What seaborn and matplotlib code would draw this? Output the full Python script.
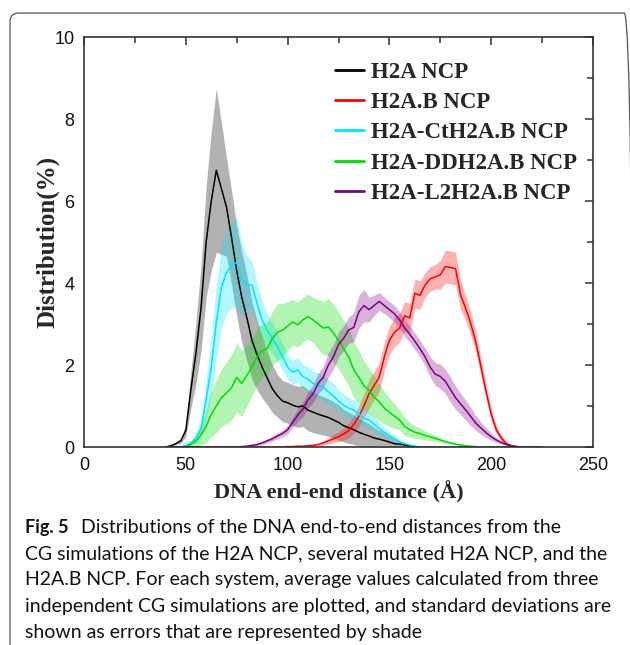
import numpy as np
import pandas as pd
import matplotlib
matplotlib.use("Agg")
import matplotlib.pyplot as plt
import seaborn as sns
from matplotlib.patches import FancyBboxPatch
from matplotlib.lines import Line2D
from matplotlib.ticker import MultipleLocator

# ---------------- data ----------------
distance = [40, 42.5, 45, 47.5, 50, 52.5, 55, 57.5, 60, 62.5,
            65, 67.5, 70, 72.5, 75, 77.5, 80, 82.5, 85, 87.5,
            90, 92.5, 95, 97.5, 100, 102.5, 105, 107.5, 110, 112.5,
            115, 117.5, 120, 122.5, 125, 127.5, 130, 132.5, 135, 137.5,
            140, 142.5, 145, 147.5, 150, 152.5, 155, 157.5, 160, 162.5,
            165, 167.5, 170, 172.5, 175, 177.5, 180, 182.5, 185, 187.5,
            190, 192.5, 195, 197.5, 200, 202.5, 205, 207.5, 210, 212.5,
            215, 217.5, 220, 222.5, 225]

h2a_mean = [0.00, 0.03, 0.08, 0.15, 0.40, 1.40, 2.30, 3.40, 5.00, 6.00,
            6.75, 6.30, 5.85, 5.10, 4.30, 3.65, 3.15, 2.60, 2.25, 1.95,
            1.68, 1.42, 1.25, 1.12, 1.08, 1.02, 0.98, 1.00, 0.90, 0.85,
            0.80, 0.76, 0.72, 0.66, 0.60, 0.52, 0.47, 0.42, 0.36, 0.31,
            0.27, 0.22, 0.19, 0.16, 0.12, 0.08, 0.07, 0.05, 0.02, 0.01,
            0, 0, 0, 0, 0, 0, 0, 0, 0, 0,
            0, 0, 0, 0, 0, 0, 0, 0, 0, 0,
            0, 0, 0, 0, 0]
h2a_std = [0.00, 0.01, 0.03, 0.06, 0.15, 0.45, 0.75, 1.05, 1.35, 1.70,
           2.00, 1.60, 1.20, 1.15, 1.10, 1.10, 1.05, 0.95, 0.85, 0.75,
           0.65, 0.58, 0.52, 0.50, 0.50, 0.50, 0.50, 0.50, 0.50, 0.50,
           0.48, 0.47, 0.46, 0.45, 0.43, 0.40, 0.38, 0.36, 0.34, 0.32,
           0.30, 0.26, 0.22, 0.18, 0.14, 0.10, 0.07, 0.05, 0.03, 0.01,
           0, 0, 0, 0, 0, 0, 0, 0, 0, 0,
           0, 0, 0, 0, 0, 0, 0, 0, 0, 0,
           0, 0, 0, 0, 0]

h2ab_mean = [0, 0, 0, 0, 0, 0, 0, 0, 0, 0,
             0, 0, 0, 0, 0, 0, 0, 0, 0, 0,
             0, 0, 0, 0, 0.01, 0.01, 0.02, 0.02, 0.03, 0.04,
             0.06, 0.10, 0.15, 0.20, 0.25, 0.32, 0.40, 0.55, 0.75, 1.00,
             1.30, 1.50, 1.70, 2.20, 2.60, 2.80, 2.90, 3.20, 3.15, 3.75,
             3.70, 3.95, 4.10, 4.15, 4.20, 4.40, 4.38, 4.35, 3.70, 3.38,
             3.00, 2.55, 1.95, 1.35, 0.80, 0.42, 0.22, 0.08, 0.03, 0.01,
             0, 0, 0, 0, 0]
h2ab_std = [0, 0, 0, 0, 0, 0, 0, 0, 0, 0,
            0, 0, 0, 0, 0, 0, 0, 0, 0, 0,
            0, 0, 0, 0, 0.01, 0.01, 0.01, 0.01, 0.02, 0.02,
            0.03, 0.05, 0.07, 0.10, 0.12, 0.15, 0.18, 0.22, 0.25, 0.30,
            0.35, 0.35, 0.35, 0.35, 0.35, 0.35, 0.35, 0.35, 0.35, 0.35,
            0.35, 0.30, 0.30, 0.30, 0.35, 0.40, 0.40, 0.40, 0.35, 0.30,
            0.28, 0.25, 0.22, 0.18, 0.15, 0.10, 0.07, 0.04, 0.02, 0.01,
            0, 0, 0, 0, 0]

ct_mean = [0, 0, 0, 0.01, 0.03, 0.10, 0.22, 0.45, 1.15, 1.95,
           3.05, 3.90, 4.25, 4.45, 4.50, 4.10, 3.95, 3.95, 3.50, 3.10,
           2.85, 2.65, 2.45, 2.20, 1.95, 1.82, 1.88, 1.72, 1.65, 1.55,
           1.50, 1.45, 1.35, 1.25, 1.12, 1.02, 0.95, 0.90, 0.80, 0.70,
           0.66, 0.55, 0.45, 0.36, 0.28, 0.20, 0.13, 0.08, 0.05, 0.02,
           0, 0, 0, 0, 0, 0, 0, 0, 0, 0,
           0, 0, 0, 0, 0, 0, 0, 0, 0, 0,
           0, 0, 0, 0, 0]
ct_std = [0, 0, 0, 0.01, 0.03, 0.06, 0.12, 0.25, 0.50, 0.70,
          0.90, 1.00, 1.00, 1.05, 1.10, 0.90, 0.70, 0.60, 0.50, 0.45,
          0.40, 0.38, 0.35, 0.33, 0.30, 0.30, 0.30, 0.30, 0.30, 0.30,
          0.30, 0.30, 0.30, 0.30, 0.28, 0.27, 0.26, 0.25, 0.24, 0.22,
          0.20, 0.18, 0.15, 0.12, 0.10, 0.08, 0.06, 0.04, 0.02, 0.01,
          0, 0, 0, 0, 0, 0, 0, 0, 0, 0,
          0, 0, 0, 0, 0, 0, 0, 0, 0, 0,
          0, 0, 0, 0, 0]

dd_mean = [0, 0, 0, 0, 0.02, 0.06, 0.15, 0.30, 0.50, 0.80,
           1.00, 1.20, 1.32, 1.45, 1.70, 1.55, 1.75, 1.95, 2.20, 2.35,
           2.40, 2.65, 2.80, 2.85, 2.95, 3.05, 2.98, 3.10, 3.18, 3.10,
           3.00, 2.90, 2.93, 2.78, 2.60, 2.40, 2.20, 1.88, 1.70, 1.50,
           1.38, 1.22, 1.10, 0.95, 0.85, 0.75, 0.66, 0.50, 0.42, 0.36,
           0.33, 0.28, 0.25, 0.21, 0.17, 0.13, 0.10, 0.07, 0.05, 0.03,
           0.02, 0.01, 0, 0, 0, 0, 0, 0, 0, 0,
           0, 0, 0, 0, 0]
dd_std = [0, 0, 0, 0, 0.02, 0.05, 0.12, 0.25, 0.40, 0.55,
          0.65, 0.70, 0.75, 0.80, 0.85, 0.80, 0.75, 0.70, 0.68, 0.65,
          0.65, 0.65, 0.70, 0.65, 0.60, 0.55, 0.55, 0.55, 0.55, 0.55,
          0.60, 0.65, 0.70, 0.70, 0.70, 0.70, 0.70, 0.68, 0.65, 0.60,
          0.55, 0.50, 0.45, 0.40, 0.35, 0.30, 0.25, 0.22, 0.18, 0.15,
          0.13, 0.11, 0.09, 0.07, 0.05, 0.04, 0.03, 0.02, 0.02, 0.01,
          0.01, 0, 0, 0, 0, 0, 0, 0, 0, 0,
          0, 0, 0, 0, 0]

l2_mean = [0, 0, 0, 0, 0, 0, 0, 0, 0, 0,
           0, 0, 0, 0, 0, 0.01, 0.02, 0.04, 0.06, 0.10,
           0.15, 0.20, 0.27, 0.33, 0.42, 0.60, 0.78, 0.92, 1.15, 1.30,
           1.55, 1.70, 2.00, 2.20, 2.50, 2.65, 2.85, 2.92, 3.30, 3.45,
           3.35, 3.45, 3.55, 3.45, 3.35, 3.25, 3.10, 2.90, 2.75, 2.58,
           2.40, 2.20, 1.95, 1.78, 1.72, 1.60, 1.40, 1.20, 1.05, 0.90,
           0.74, 0.58, 0.46, 0.35, 0.25, 0.17, 0.11, 0.06, 0.03, 0.01,
           0, 0, 0, 0, 0]
l2_std = [0, 0, 0, 0, 0, 0, 0, 0, 0, 0,
          0, 0, 0, 0, 0, 0.01, 0.01, 0.02, 0.03, 0.04,
          0.05, 0.06, 0.07, 0.08, 0.10, 0.12, 0.15, 0.18, 0.20, 0.22,
          0.25, 0.27, 0.30, 0.30, 0.30, 0.30, 0.32, 0.35, 0.40, 0.40,
          0.30, 0.25, 0.22, 0.20, 0.20, 0.20, 0.20, 0.20, 0.20, 0.20,
          0.20, 0.22, 0.25, 0.28, 0.30, 0.30, 0.30, 0.28, 0.26, 0.24,
          0.22, 0.18, 0.15, 0.12, 0.09, 0.06, 0.04, 0.02, 0.01, 0.01,
          0, 0, 0, 0, 0]

series_names = ["H2A NCP", "H2A.B NCP", "H2A-CtH2A.B NCP",
                "H2A-DDH2A.B NCP", "H2A-L2H2A.B NCP"]
series_colors = ["#000000", "#ff0000", "#00e5ff", "#00dd00", "#800080"]
x_ticks = [0, 50, 100, 150, 200, 250]
y_ticks = [0, 2, 4, 6, 8, 10]
x_label = "DNA end-end distance (Å)"
y_label = "Distribution(%)"
caption_head = "Fig. 5"
caption_lines = [
    "Distributions of the DNA end-to-end distances from the",
    "CG simulations of the H2A NCP, several mutated H2A NCP, and the",
    "H2A.B NCP. For each system, average values calculated from three",
    "independent CG simulations are plotted, and standard deviations are",
    "shown as errors that are represented by shade",
]

means = [h2a_mean, h2ab_mean, ct_mean, dd_mean, l2_mean]
stds = [h2a_std, h2ab_std, ct_std, dd_std, l2_std]

# ---------------- figure ----------------
sns.set_style("white")
plt.rcParams["font.family"] = ["Liberation Sans", "DejaVu Sans"]

W, H = 630, 645
fig = plt.figure(figsize=(W / 100, H / 100), dpi=100)
ax = fig.add_axes([84 / W, 1 - 447 / H, (593 - 84) / W, (447 - 37) / H])

rows = []
for name, m in zip(series_names, means):
    for xv, yv in zip(distance, m):
        rows.append({"distance": xv, "value": yv, "system": name})
df = pd.DataFrame(rows)

for name, m, s, c in zip(series_names, means, stds, series_colors):
    m = np.asarray(m)
    s = np.asarray(s)
    ax.fill_between(distance, np.clip(m - s, 0, None), m + s,
                    color=c, alpha=0.3, lw=0, zorder=1)

sns.lineplot(data=df, x="distance", y="value", hue="system",
             hue_order=series_names,
             palette=dict(zip(series_names, series_colors)),
             lw=1.1, ax=ax, legend=False, zorder=3)

ax.set_xlim(0, 250)
ax.set_ylim(0, 10)
ax.set_xticks(x_ticks)
ax.set_yticks(y_ticks)
ax.xaxis.set_minor_locator(MultipleLocator(25))
ax.yaxis.set_minor_locator(MultipleLocator(1))
ax.tick_params(which="both", direction="in", top=True, right=True,
               color="#333333", width=1.1)
ax.tick_params(which="major", length=6, labelsize=13, pad=7,
               labelcolor="#111111")
ax.tick_params(which="minor", length=4)
for sp in ax.spines.values():
    sp.set_linewidth(1.2)
    sp.set_color("#333333")
    sp.set_zorder(5)

ax.set_xlabel(x_label, family="Liberation Serif", fontweight="bold",
              fontsize=16, labelpad=5)
ax.set_ylabel(y_label, family="Liberation Serif", fontweight="bold",
              fontsize=18, labelpad=-4)

handles = [Line2D([], [], color=c, lw=2.0) for c in series_colors]
ax.legend(handles, series_names, loc="upper left",
          bbox_to_anchor=((335 - 84) / 509, (447 - 62) / 410),
          frameon=False, borderpad=0, borderaxespad=0,
          handlelength=1.25, handletextpad=0.3, labelspacing=0.4,
          prop={"family": "Liberation Serif", "weight": "bold", "size": 16.5})

# ---------------- caption ----------------
cap_font = ["Lato", "DejaVu Sans"]
cap_size = 14
x0 = 25
baselines = [532.7, 559.0, 585.5, 612.0, 638.0]
fig.text(x0 / W, 1 - baselines[0] / H, caption_head, family=cap_font,
         fontweight="bold", fontsize=13, va="baseline",
         ha="left", color="#111111")
fig.text(81 / W, 1 - baselines[0] / H, caption_lines[0],
         family=cap_font, fontsize=cap_size, va="baseline", ha="left",
         color="#111111")
for b, line in zip(baselines[1:], caption_lines[1:]):
    fig.text(x0 / W, 1 - b / H, line, family=cap_font, fontsize=cap_size,
             va="baseline", ha="left", color="#111111")

# ---------------- page frame ----------------
frame = FancyBboxPatch((10 / W, -0.05), (633 - 10) / W, (H - 13) / H + 0.05,
                       boxstyle="round,pad=0,rounding_size=0.014",
                       transform=fig.transFigure, fill=False,
                       edgecolor="#555555", lw=0.9, clip_on=False)
fig.patches.append(frame)

fig.savefig("out.png", dpi=100)
